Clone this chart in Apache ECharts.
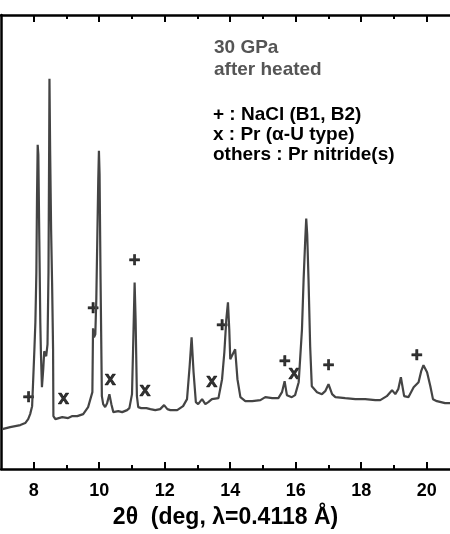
<!DOCTYPE html>
<html>
<head>
<meta charset="utf-8">
<script src="https://cdn.jsdelivr.net/npm/echarts@6/dist/echarts.min.js"></script>
<style>
  html, body { margin: 0; padding: 0; background: #fff; }
  #chart { width: 450px; height: 534px; }
</style>
</head>
<body>
<div id="chart"></div>
<script>
// 2-theta (deg) and intensity (a.u.)
const theta = [
  7.04, 7.28, 7.59, 7.74, 7.83, 7.89, 7.95, 7.98, 8.02, 8.05,
  8.08, 8.10, 8.12, 8.14, 8.17, 8.20, 8.22, 8.25, 8.29, 8.32,
  8.35, 8.38, 8.42, 8.45, 8.47, 8.48, 8.50, 8.53, 8.56, 8.59,
  8.60, 8.66, 8.72, 8.87, 9.05, 9.18, 9.33, 9.51, 9.66, 9.79,
  9.81, 9.84, 9.88, 9.91, 9.94, 9.97, 9.99, 10.01, 10.04, 10.08,
  10.12, 10.18, 10.24, 10.31, 10.37, 10.43, 10.58, 10.70, 10.85, 10.92,
  11.00, 11.04, 11.08, 11.11, 11.15, 11.19, 11.28, 11.44, 11.56, 11.71,
  11.86, 11.98, 12.08, 12.17, 12.38, 12.56, 12.68, 12.76, 12.82, 12.88,
  12.95, 13.02, 13.14, 13.24, 13.33, 13.44, 13.64, 13.75, 13.82, 13.88,
  13.93, 13.97, 14.00, 14.06, 14.15, 14.22, 14.31, 14.46, 14.67, 14.92,
  15.07, 15.28, 15.47, 15.58, 15.66, 15.73, 15.88, 15.98, 16.09, 16.19,
  16.24, 16.29, 16.32, 16.35, 16.39, 16.44, 16.49, 16.65, 16.80, 16.90,
  17.00, 17.11, 17.21, 17.51, 17.82, 18.12, 18.43, 18.58, 18.78, 18.94,
  19.04, 19.13, 19.21, 19.31, 19.44, 19.60, 19.75, 19.83, 19.90, 20.01,
  20.11, 20.19, 20.31, 20.56, 20.72
];
const intensity = [
  40, 42, 44, 46, 50, 55, 63, 87, 120, 147,
  197, 273, 325, 315, 230, 147, 115, 82, 100, 118,
  120, 113, 125, 197, 320, 391, 320, 240, 187, 120,
  53, 50, 49, 52, 51, 53, 53, 55, 62, 77,
  141, 132, 135, 170, 230, 290, 319, 295, 190, 73,
  65, 62, 66, 75, 65, 57, 58, 57, 59, 61,
  75, 130, 187, 150, 73, 62, 61, 61, 60, 59,
  60, 64, 60, 59, 59, 63, 70, 103, 132, 97,
  67, 65, 70, 65, 67, 70, 71, 90, 117, 150,
  167, 140, 110, 108, 120, 90, 72, 68, 68, 69,
  72, 71, 71, 77, 88, 74, 72, 74, 87, 140,
  190, 230, 251, 235, 190, 123, 83, 77, 75, 78,
  85, 75, 72, 71, 70, 70, 69, 69, 73, 79,
  75, 80, 92, 73, 72, 82, 87, 98, 104, 97,
  83, 70, 68, 66, 66
];

// "+" : NaCl (B1, B2) reflections
const plusTheta = [7.84, 9.81, 11.08, 13.75, 15.67, 17.00, 19.70];
const plusInt = [71, 160, 208, 143, 107, 103, 113];
// "x" : Pr (alpha-U type) reflections
const crossTheta = [8.91, 10.34, 11.40, 13.44, 15.95];
const crossInt = [71, 90, 79, 88, 96];

const majorTicks = [8, 10, 12, 14, 16, 18, 20];
const minorTicks = [9, 11, 13, 15, 17, 19];

const xMin = 7;
const xMax = 20.71;

const chart = echarts.init(document.getElementById('chart'));

const bold = 'bold';
const fontFamily = '"Liberation Sans", Arial, sans-serif';

const baseAxis = (pos, ticks, len, showLine, showLabel) => ({
  type: 'value',
  position: pos,
  min: xMin,
  max: xMax,
  axisLine: { show: showLine, lineStyle: { color: '#000', width: 2.5 } },
  axisTick: {
    show: true,
    inside: true,
    length: len,
    customValues: ticks,
    lineStyle: { color: '#000', width: 2 }
  },
  axisLabel: showLabel
    ? {
        show: true,
        customValues: ticks,
        margin: 13,
        color: '#000',
        fontSize: 18,
        fontWeight: bold,
        fontFamily
      }
    : { show: false },
  splitLine: { show: false }
});

const xBottom = baseAxis('bottom', majorTicks, 7, true, true);
xBottom.name = '2θ  (deg, λ=0.4118 Å)';
xBottom.nameLocation = 'middle';
xBottom.nameGap = 37;
xBottom.nameTextStyle = { color: '#000', fontSize: 23, fontWeight: bold, fontFamily };

const markLabel = (txt) => ({
  show: true,
  position: 'inside',
  formatter: txt,
  color: '#000',
  fontSize: 20,
  fontWeight: bold,
  fontFamily,
  textBorderColor: '#000',
  textBorderWidth: 0.6
});

chart.setOption({
  animation: false,
  backgroundColor: '#fff',
  grid: { left: 1, right: 0, top: 15, bottom: 64, containLabel: false },
  xAxis: [
    xBottom,
    baseAxis('bottom', minorTicks, 4, false, false),
    baseAxis('top', majorTicks, 7, true, false),
    baseAxis('top', minorTicks, 4, false, false)
  ],
  yAxis: {
    type: 'value',
    min: 0,
    max: 455,
    axisLine: { show: true, lineStyle: { color: '#000', width: 2.5 } },
    axisTick: { show: false },
    axisLabel: { show: false },
    splitLine: { show: false }
  },
  graphic: [
    {
      type: 'text',
      left: 214,
      top: 37,
      style: {
        text: '30 GPa\nafter heated',
        fill: '#555',
        font: 'bold 19px "Liberation Sans", Arial, sans-serif',
        lineHeight: 22
      }
    },
    {
      type: 'text',
      left: 213,
      top: 105,
      style: {
        text: '+ : NaCl (B1, B2)\nx : Pr (α-U type)\nothers : Pr nitride(s)',
        fill: '#000',
        font: 'bold 19px "Liberation Sans", Arial, sans-serif',
        lineHeight: 20
      }
    }
  ],
  series: [
    {
      type: 'line',
      data: theta.map((t, i) => [t, intensity[i]]),
      symbol: 'none',
      smooth: false,
      silent: true,
      lineStyle: { color: '#444', width: 2.2 }
    },
    {
      type: 'scatter',
      data: plusTheta.map((t, i) => [t, plusInt[i]]),
      symbolSize: 0,
      silent: true,
      label: markLabel('+')
    },
    {
      type: 'scatter',
      data: crossTheta.map((t, i) => [t, crossInt[i]]),
      symbolSize: 0,
      silent: true,
      label: markLabel('x')
    }
  ]
});
</script>
</body>
</html>
